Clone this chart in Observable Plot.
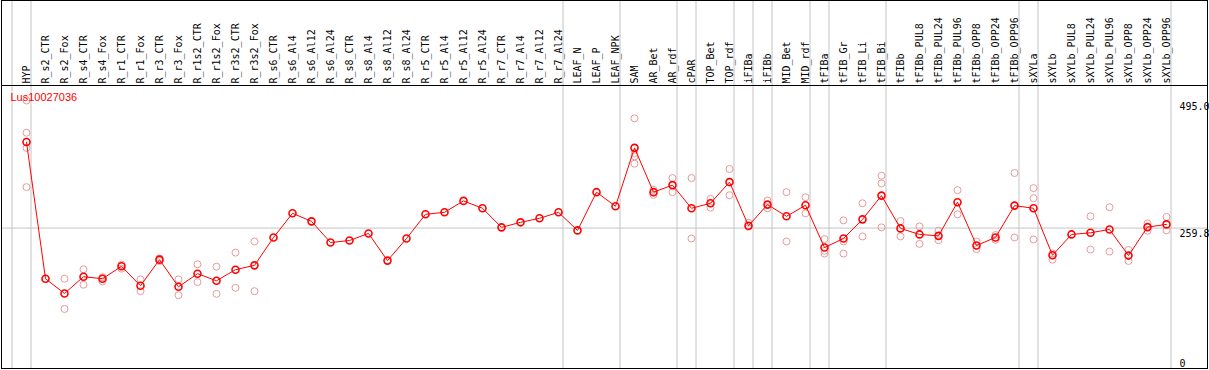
<!DOCTYPE html>
<html>
<head>
<meta charset="utf-8">
<script src="https://cdn.jsdelivr.net/npm/d3@7"></script>
<script src="https://cdn.jsdelivr.net/npm/@observablehq/plot@0.6"></script>
<style>
  html, body { margin: 0; padding: 0; background: white; }
  svg { display: block; }
</style>
</head>
<body>
<div id="chart"></div>
<script>
const title = "Lus10027036";

const categories = [
  "HYP","R_s2_CTR","R_s2_Fox","R_s4_CTR","R_s4_Fox","R_r1_CTR","R_r1_Fox","R_r3_CTR","R_r3_Fox",
  "R_r1s2_CTR","R_r1s2_Fox","R_r3s2_CTR","R_r3s2_Fox","R_s6_CTR","R_s6_Al4","R_s6_Al12","R_s6_Al24",
  "R_s8_CTR","R_s8_Al4","R_s8_Al12","R_s8_Al24","R_r5_CTR","R_r5_Al4","R_r5_Al12","R_r5_Al24",
  "R_r7_CTR","R_r7_Al4","R_r7_Al12","R_r7_Al24","LEAF_N","LEAF_P","LEAF_NPK","SAM","AR_Bet","AR_rdf",
  "cPAR","TOP_Bet","TOP_rdf","iFIBa","iFIBb","MID_Bet","MID_rdf","tFIBa","tFIB_Gr","tFIB_Li","tFIB_Bi",
  "tFIBb","tFIBb_PUL8","tFIBb_PUL24","tFIBb_PUL96","tFIBb_OPP8","tFIBb_OPP24","tFIBb_OPP96",
  "sXYLa","sXYLb","sXYLb_PUL8","sXYLb_PUL24","sXYLb_PUL96","sXYLb_OPP8","sXYLb_OPP24","sXYLb_OPP96"
];

const means = [
  418.4,166.4,139.2,170.1,166.4,189.3,153.4,201.6,151.5,
  175.7,162.7,183.1,191.1,242.5,287.0,272.2,233.2,
  236.9,249.9,199.8,240.6,285.2,288.9,309.9,296.3,
  261.1,270.4,277.8,288.9,255.5,326.0,300.0,407.7,326.0,339.0,
  296.3,305.6,344.6,264.1,303.1,281.5,301.9,223.9,240.6,275.9,319.7,
  259.2,248.1,245.5,307.5,227.7,242.5,301.2,
  296.3,209.7,248.1,251.1,257.3,209.1,261.6,266.6
];

const replicates = [
  [495,435.5,407.7,335.3],[],[166.4,110.7],[183.7,155.3],[169.4,161.4],[192.4,185],[165.2,143.5],[204,199],[165.2,136.1],
  [193,160.2],[188.6,138.6],[214.6,149.7],[235.1,143.5],[],[],[],[],
  [],[],[],[],[],[],[],[],
  [],[],[],[],[],[],[],[462.1,398,392,378.5],[330.3,321],[352.0,326.0],
  [352.0,240.6],[313.6,297.5],[368.7,320.4],[269.6,262.2],[310.5,296.3],[326.0,235.1],[316.7,287.0],[239.4,217.7,212.8],[274.0,235.1,212.8],[305.6,244.4],[356.3,342.0,261.1],
  [272.8,244.4],[262.9,230.7],[254.8,237.5],[329.7,285.2],[235.1,220.8],[247,238],[361.3,242.5],
  [333.4,314.9,238.8],[213,201.6],[],[281.5,220.2],[298.2,216.5],[219.5,199.1],[268.5,254.8],[280.2,255.5]
];

// group boundaries (index of last category in each group; -1 = left start)
const groupEnds = [-1, 0, 28, 31, 34, 35, 37, 38, 39, 41, 42, 45, 52, 53, 60];

const yTickValues = [495, 259.8, 0];
const yTickLabels = ["495.0", "259.8", "0"];
const refLine = [259.8];

const repData = replicates.flatMap((arr, i) => arr.map(v => ({i, v})));
const idx = categories.map((c, i) => i);

const red = "#ff0000";
const pink = "#e89a9a";
const grid = "#c4c4c4";

const chart = Plot.plot({
  width: 1209,
  height: 370,
  marginLeft: 1,
  marginRight: 39,
  marginTop: 85,
  marginBottom: 2,
  style: {fontFamily: "'DejaVu Sans Mono', monospace", fontSize: "10px", background: "white", color: "black"},
  x: {type: "linear", domain: [0, 60], range: [26, 1166], axis: null},
  y: {type: "linear", domain: [0, 495], range: [368.5, 100], axis: null},
  marks: [
    Plot.ruleY(refLine, {y: d => d, stroke: grid, strokeWidth: 1, insetRight: -37}),
    Plot.ruleX(groupEnds, {x: d => d, dx: 4.5, stroke: grid, strokeWidth: 1, insetTop: -85}),
    Plot.text(idx, {
      x: d => d, frameAnchor: "top", text: d => categories[d],
      rotate: -90, textAnchor: "start", lineAnchor: "middle", dy: -2, dx: 0,
      fill: "black", fontFamily: "'DejaVu Sans Mono', monospace", fontSize: 10
    }),
    Plot.text(yTickValues.slice(0, 2), {
      y: d => d, frameAnchor: "right", text: (d, i) => yTickLabels[i],
      textAnchor: "start", lineAnchor: "top", dx: 9, dy: 2, fill: "black", fontSize: 10
    }),
    Plot.text(yTickValues.slice(2), {
      y: d => d, frameAnchor: "right", text: (d, i) => yTickLabels[2 + i],
      textAnchor: "start", lineAnchor: "bottom", dx: 9, dy: -2.5, fill: "black", fontSize: 10
    }),
    Plot.dot(repData, {x: "i", y: "v", r: 3.5, stroke: pink, strokeWidth: 1, fill: "none"}),
    Plot.line(means, {x: (d, i) => i, y: d => d, stroke: red, strokeWidth: 1}),
    Plot.dot(means, {x: (d, i) => i, y: d => d, r: 3.5, stroke: red, strokeWidth: 1.6, fill: "none"}),
    Plot.text([title], {
      frameAnchor: "top-left", text: d => d, textAnchor: "start", lineAnchor: "top",
      dx: 9, dy: 7.5, fill: red, fontFamily: "'Liberation Sans', Arial, sans-serif", fontSize: 11
    }),
    Plot.frame({stroke: "black", strokeWidth: 1, insetTop: -85, insetRight: -37}),
    Plot.frame({stroke: "black", strokeWidth: 1, insetRight: -37})
  ]
});

document.getElementById("chart").appendChild(chart);
</script>
</body>
</html>
